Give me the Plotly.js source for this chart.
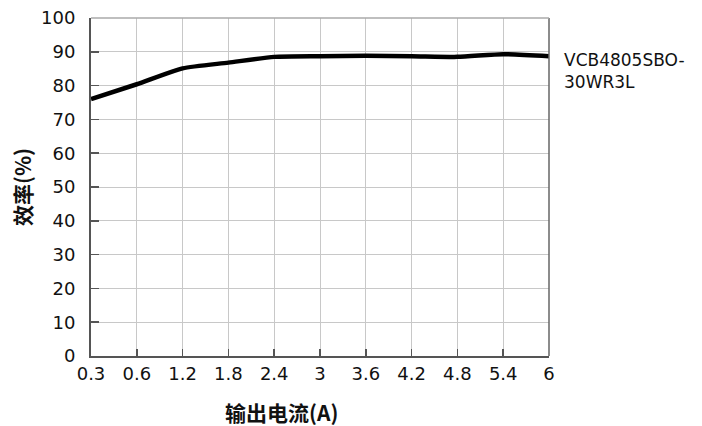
<!DOCTYPE html>
<html>
<head>
<meta charset="utf-8">
<script src="https://cdn.plot.ly/plotly-3.0.1.min.js"></script>
<style>html,body{margin:0;padding:0;background:#fff;}#chart{width:702px;height:426px;}</style>
</head>
<body>
<div id="chart"></div>
<script>
const currents = ["0.3", "0.6", "1.2", "1.8", "2.4", "3", "3.6", "4.2", "4.8", "5.4", "6"];
const efficiency = [76.0, 80.4, 85.1, 86.8, 88.5, 88.7, 88.8, 88.7, 88.5, 89.3, 88.7];
const seriesName = "VCB4805SBO-<br>30WR3L";
const xTitle = "输出电流(A)";
const yTitle = "效率(%)";

const tickFont = {family: "DejaVu Sans, sans-serif", size: 18, color: "#111"};
const titleFont = {family: "Noto Sans CJK SC, sans-serif", size: 21, color: "#111", weight: "bold"};

const trace = {
  x: currents, y: efficiency, type: "scatter", mode: "lines",
  line: {color: "#000", width: 4.5, shape: "spline", smoothing: 0.6},
  name: "VCB4805SBO-30WR3L", showlegend: false
};

const layout = {
  width: 702, height: 426,
  margin: {l: 91, r: 153, t: 18, b: 70},
  paper_bgcolor: "#fff", plot_bgcolor: "#fff",
  xaxis: {
    type: "category", showgrid: true, gridcolor: "#c8c8c8", gridwidth: 1,
    showline: true, linecolor: "#555", linewidth: 2, mirror: false,
    ticks: "inside", ticklen: 7, tickcolor: "#555", tickwidth: 1.5,
    tickfont: tickFont, range: [0, 10], zeroline: false
  },
  yaxis: {
    range: [0, 100], dtick: 10, showgrid: true, gridcolor: "#c8c8c8", gridwidth: 1,
    showline: true, linecolor: "#555", linewidth: 2, mirror: false,
    ticks: "inside", ticklen: 8, tickcolor: "#555", tickwidth: 1.5,
    tickfont: tickFont, zeroline: false, ticklabelstandoff: 10,
    title: {text: yTitle, font: titleFont, standoff: 4}
  },
  shapes: [
    {type: "line", xref: "paper", yref: "paper", x0: 1, x1: 1, y0: 0, y1: 1, line: {color: "#666", width: 1.5}},
    {type: "line", xref: "paper", yref: "paper", x0: 0, x1: 1, y0: 1, y1: 1, line: {color: "#aaa", width: 1.5}}
  ],
  annotations: [
    {text: seriesName, xref: "paper", yref: "paper", x: 1.028, y: 0.91, xanchor: "left", yanchor: "top",
     align: "left", showarrow: false, font: {family: "DejaVu Sans, sans-serif", size: 17, color: "#111"}},
    {text: xTitle, xref: "paper", yref: "paper", x: 0.417, y: -0.165, xanchor: "center", yanchor: "middle",
     showarrow: false, font: titleFont}
  ]
};

Plotly.newPlot("chart", [trace], layout, {displayModeBar: false, staticPlot: true});
</script>
</body>
</html>
